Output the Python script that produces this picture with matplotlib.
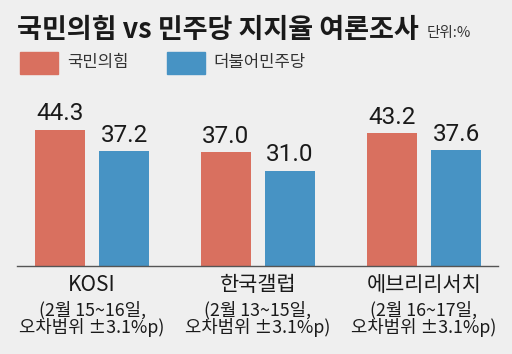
import matplotlib
matplotlib.use("Agg")
import matplotlib.pyplot as plt
import numpy as np

categories = ["KOSI", "한국갤럽", "에브리리서치"]
subtitles = ["(2월 15~16일,\n오차범위 ±3.1%p)",
             "(2월 13~15일,\n오차범위 ±3.1%p)",
             "(2월 16~17일,\n오차범위 ±3.1%p)"]
series_names = ["국민의힘", "더불어민주당"]
ppp = [44.3, 37.0, 43.2]
dem = [37.2, 31.0, 37.6]

RED = "#d9705f"
BLUE = "#4793c4"
BG = "#efefef"
FONT = ["Noto Sans CJK KR", "DejaVu Sans"]
plt.rcParams['font.family'] = FONT

W, H = 512, 354
fig = plt.figure(figsize=(W / 100, H / 100), dpi=100, facecolor=BG)

# axes in pixel coordinates: left 17, right 498, baseline y=266, top y=112
ax = fig.add_axes([17 / W, (H - 266) / H, (498 - 17) / W, (266 - 112) / H])
ax.set_facecolor(BG)
x = np.arange(len(categories))
bw = 0.301
off = 0.193
ax.bar(x - off, ppp, width=bw, color=RED)
ax.bar(x + off, dem, width=bw, color=BLUE)
ax.set_xlim(-0.452, 2.446)
ax.set_ylim(0, 50)
for s in ["top", "right", "left"]:
    ax.spines[s].set_visible(False)
ax.spines["bottom"].set_color("#555555")
ax.spines["bottom"].set_linewidth(1.0)
ax.set_xticks([])
ax.set_yticks([])

for xi, v in zip(x - off, ppp):
    ax.annotate(f"{v:.1f}", (xi, v), xytext=(0, 3), textcoords="offset points",
                ha="center", va="bottom", fontsize=17.5, color="#1a1a1a",
                family=["Roboto", "DejaVu Sans"])
for xi, v in zip(x + off, dem):
    ax.annotate(f"{v:.1f}", (xi, v), xytext=(0, 3), textcoords="offset points",
                ha="center", va="bottom", fontsize=17.5, color="#1a1a1a",
                family=["Roboto", "DejaVu Sans"])

for xi, c, s in zip(x, categories, subtitles):
    ax.annotate(c, (xi, 0), xytext=(0, -6), textcoords="offset points",
                ha="center", va="top", fontsize=15, color="#1a1a1a")
    ax.annotate(s, (xi, 0), xytext=(0, -25), textcoords="offset points",
                ha="center", va="top", fontsize=12.8, color="#1a1a1a",
                linespacing=0.95)

# title
fig.text(17 / W, 1 - 30 / H, "국민의힘 vs 민주당 지지율 여론조사", fontsize=19.5,
         fontweight="bold", ha="left", va="center", color="#1a1a1a")
fig.text(427 / W, 1 - 33 / H, "단위:%", fontsize=10.5, ha="left", va="center",
         color="#333333")

# legend
for (x0, x1), col, name, tx in [((20, 58), RED, series_names[0], 67),
                                 ((167, 205), BLUE, series_names[1], 213)]:
    fig.patches.append(plt.Rectangle((x0 / W, 1 - 74 / H), (x1 - x0) / W, 22 / H,
                                     transform=fig.transFigure, color=col))
    fig.text(tx / W, 1 - 63 / H, name, fontsize=12, ha="left", va="center",
             color="#333333")

fig.savefig("out.png", dpi=100, facecolor=BG)
